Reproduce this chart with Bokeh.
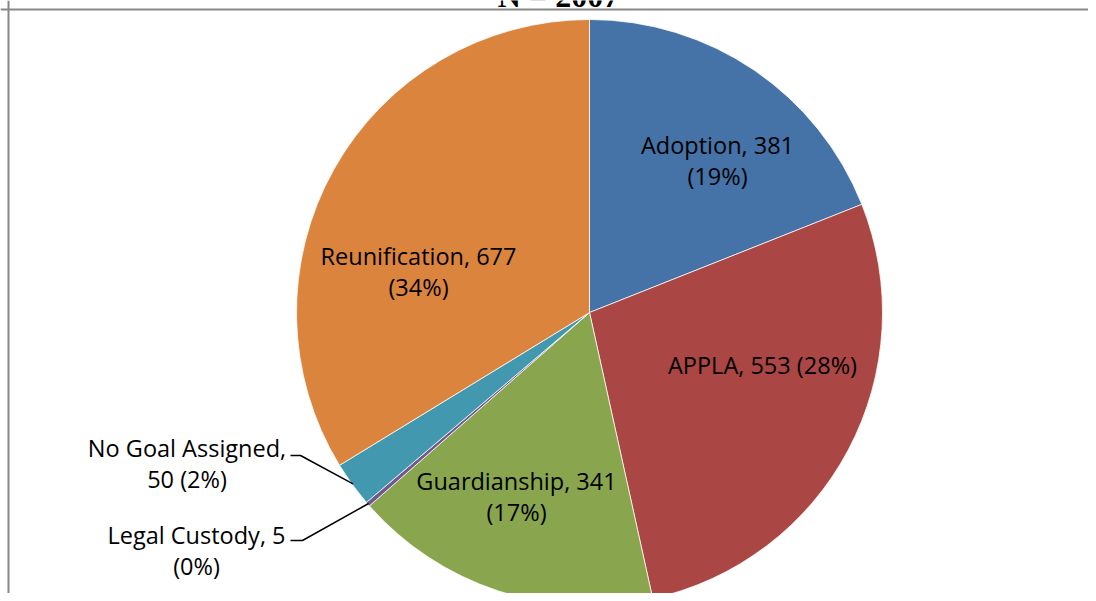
import math
import numpy as np
from bokeh.plotting import figure
from bokeh.models import Range1d, Span, ColumnDataSource
from bokeh.embed import file_html
from bokeh.resources import INLINE
from bokeh.core.properties import value

# ---------------- data ----------------
categories = ["Adoption", "APPLA", "Guardianship", "Legal Custody",
              "No Goal Assigned", "Reunification"]
counts = [381, 553, 341, 5, 50, 677]
colors = ["#4572A7", "#AA4643", "#89A54E", "#71588F", "#4198AF", "#DB843D"]
title_text = "N = 2007"

# ---------------- layout ----------------
W, H = 1088, 593
TEXT_SHIFT = 9  # correction so that glyph baselines land where intended


def px(x):  # picture x -> data x
    return x


def py(y):  # picture y -> data y
    return H - y


total = sum(counts)
pcts = [round(100 * c / total) for c in counts]

# how each label is broken into lines
# 0: "name, value" / "(pct%)"   1: one line   2: "name," / "value (pct%)"
break_style = [0, 1, 0, 0, 2, 0]

# label anchor (picture coords): centre x, first baseline y
label_anchor = [(717, 153), (762, 373), (516, 489), (196, 543), (186.5, 456), (418, 264)]
line_gap = 31.5

# leader lines for outside labels: elbow start / end (picture coords)
leaders = {3: ((290, 540), (302, 540)), 4: ((290, 455), (300, 455))}

cx, cy = px(589), py(312)
R = 293

p = figure(width=W, height=H, x_range=Range1d(0, W), y_range=Range1d(0, H),
           output_backend="svg", toolbar_location=None, min_border=0,
           x_axis_type=None, y_axis_type=None)
p.grid.visible = False
p.outline_line_color = None
p.background_fill_color = "white"
p.border_fill_color = "white"

cum = np.concatenate([[0], np.cumsum(counts)])
start = [math.pi / 2 - 2 * math.pi * cum[i] / total for i in range(len(counts))]
end = [math.pi / 2 - 2 * math.pi * cum[i + 1] / total for i in range(len(counts))]

src = ColumnDataSource(dict(start=start, end=end, color=colors, cat=categories))
p.wedge(x=cx, y=cy, radius=R, start_angle="start", end_angle="end",
        direction="clock", fill_color="color", line_color="white",
        line_width=0.75, source=src)

# labels
tx, ty, tt = [], [], []
for i, (c, v, pc) in enumerate(zip(categories, counts, pcts)):
    s = break_style[i]
    if s == 0:
        lines = [f"{c}, {v}", f"({pc}%)"]
    elif s == 1:
        lines = [f"{c}, {v} ({pc}%)"]
    else:
        lines = [f"{c},", f"{v} ({pc}%)"]
    ax, ay = label_anchor[i]
    for k, ln in enumerate(lines):
        tx.append(px(ax))
        ty.append(py(ay + k * line_gap - TEXT_SHIFT))
        tt.append(ln)

p.text(x=tx, y=ty, text=tt, text_align="center", text_baseline="alphabetic",
       text_font=value("Open Sans"), text_font_size="23.5px", text_color="black")

# leader lines
for i, (a, b) in leaders.items():
    mid = (start[i] + end[i]) / 2
    ex = cx + (R - 1) * math.cos(mid)
    ey = cy + (R - 1) * math.sin(mid)
    p.line(x=[px(a[0]), px(b[0]), ex], y=[py(a[1]), py(b[1]), ey],
           line_color="black", line_width=1.5)

# title (mostly cut off at the top edge, as in the source)
p.text(x=[px(558)], y=[py(4 - TEXT_SHIFT)], text=[title_text], text_align="center",
       text_baseline="alphabetic", text_font=value("Liberation Serif"),
       text_font_size="32px", text_font_style="bold", text_color="black")

# chart border (top and left edges visible)
p.add_layout(Span(location=py(9), dimension="width", line_color="#878787", line_width=2))
p.add_layout(Span(location=px(8), dimension="height", line_color="#878787", line_width=2))

open("out.html", "w").write(file_html(p, INLINE))
